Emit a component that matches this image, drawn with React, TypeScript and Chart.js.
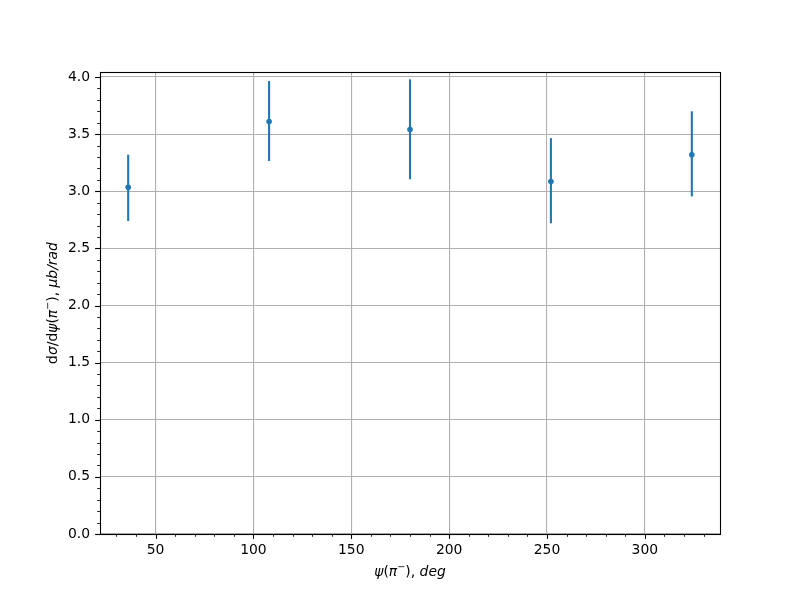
import React, { useEffect, useRef } from "react";
import { Chart, registerables } from "chart.js";

Chart.register(...registerables);

// Data
const psiDeg = [36, 108, 180, 252, 324];
const dSigma = [3.035, 3.61, 3.54, 3.085, 3.32];
const errLow = [2.74, 3.265, 3.105, 2.72, 2.955];
const errHigh = [3.32, 3.965, 3.98, 3.465, 3.7];

// Ticks
const xMajorTicks = [50, 100, 150, 200, 250, 300];
const xMinorTicks = [30, 40, 60, 70, 80, 90, 110, 120, 130, 140, 160, 170, 180, 190, 210, 220, 230, 240, 260, 270, 280, 290, 310, 320, 330];
const yMajorTicks = [0, 0.5, 1.0, 1.5, 2.0, 2.5, 3.0, 3.5, 4.0];
const yMinorTicks = [0.1, 0.2, 0.3, 0.4, 0.6, 0.7, 0.8, 0.9, 1.1, 1.2, 1.3, 1.4, 1.6, 1.7, 1.8, 1.9, 2.1, 2.2, 2.3, 2.4, 2.6, 2.7, 2.8, 2.9, 3.1, 3.2, 3.3, 3.4, 3.6, 3.7, 3.8, 3.9, 4.0];

const xLimits = [21.6, 338.4];
const yLimits = [0, 4.044];

const BLUE = "#1f77b4";
const FONT = "'DejaVu Sans', sans-serif";

type Piece = { t: string; it?: boolean; sup?: boolean };

const xLabelPieces: Piece[] = [
  { t: "ψ", it: true },
  { t: "(" },
  { t: "π", it: true },
  { t: "−", sup: true },
  { t: ")" },
  { t: ", " },
  { t: "deg", it: true },
];
const yLabelPieces: Piece[] = [
  { t: "d" },
  { t: "σ", it: true },
  { t: "/d" },
  { t: "ψ", it: true },
  { t: "(" },
  { t: "π", it: true },
  { t: "−", sup: true },
  { t: ")" },
  { t: ", " },
  { t: "μb/rad", it: true },
];

function pieceFont(p: Piece) {
  const size = p.sup ? 9.7 : 13.9;
  return `${p.it ? "italic " : ""}${size}px ${FONT}`;
}

function drawPieces(ctx: CanvasRenderingContext2D, pieces: Piece[], cx: number, cy: number) {
  let total = 0;
  const widths = pieces.map((p) => {
    ctx.font = pieceFont(p);
    const w = ctx.measureText(p.t).width;
    total += w;
    return w;
  });
  let x = cx - total / 2;
  ctx.textBaseline = "middle";
  ctx.textAlign = "left";
  pieces.forEach((p, i) => {
    ctx.font = pieceFont(p);
    ctx.fillText(p.t, x, p.sup ? cy - 5 : cy);
    x += widths[i];
  });
}

const customPlugin = {
  id: "mplStyle",
  beforeDatasetsDraw(chart: any) {
    const ctx = chart.ctx as CanvasRenderingContext2D;
    const xs = chart.scales.x;
    const ys = chart.scales.y;
    ctx.save();
    ctx.strokeStyle = BLUE;
    ctx.lineWidth = 2.1;
    psiDeg.forEach((x, i) => {
      const px = xs.getPixelForValue(x);
      ctx.beginPath();
      ctx.moveTo(px, ys.getPixelForValue(errLow[i]));
      ctx.lineTo(px, ys.getPixelForValue(errHigh[i]));
      ctx.stroke();
    });
    ctx.restore();
  },
  afterDraw(chart: any) {
    const ctx = chart.ctx as CanvasRenderingContext2D;
    const a = chart.chartArea;
    const xs = chart.scales.x;
    const ys = chart.scales.y;
    ctx.save();
    ctx.strokeStyle = "#000";
    // ticks
    const drawX = (vals: number[], len: number, lw: number) => {
      ctx.lineWidth = lw;
      vals.forEach((v) => {
        const px = Math.round(xs.getPixelForValue(v)) + 0.5;
        ctx.beginPath();
        ctx.moveTo(px, a.bottom);
        ctx.lineTo(px, a.bottom + len);
        ctx.stroke();
      });
    };
    const drawY = (vals: number[], len: number, lw: number) => {
      ctx.lineWidth = lw;
      vals.forEach((v) => {
        const py = Math.round(ys.getPixelForValue(v)) + 0.5;
        ctx.beginPath();
        ctx.moveTo(a.left, py);
        ctx.lineTo(a.left - len, py);
        ctx.stroke();
      });
    };
    drawX(xMajorTicks, 4.9, 1.1);
    drawX(xMinorTicks, 2.8, 0.85);
    drawY(yMajorTicks, 4.9, 1.1);
    drawY(yMinorTicks, 2.8, 0.85);
    // frame
    ctx.lineWidth = 1.1;
    ctx.strokeRect(Math.round(a.left) + 0.5, Math.round(a.top) + 0.5, Math.round(a.right - a.left), Math.round(a.bottom - a.top));
    // axis labels
    ctx.fillStyle = "#000";
    drawPieces(ctx, xLabelPieces, (a.left + a.right) / 2, 572);
    ctx.save();
    ctx.translate(53, (a.top + a.bottom) / 2);
    ctx.rotate(-Math.PI / 2);
    drawPieces(ctx, yLabelPieces, 0, 0);
    ctx.restore();
    ctx.restore();
  },
};

export default function App() {
  const ref = useRef<HTMLCanvasElement | null>(null);
  useEffect(() => {
    if (!ref.current) return;
    const chart = new Chart(ref.current, {
      type: "scatter",
      data: {
        datasets: [
          {
            data: psiDeg.map((x, i) => ({ x, y: dSigma[i] })),
            backgroundColor: BLUE,
            borderColor: BLUE,
            pointRadius: 2.8,
            pointBorderWidth: 0,
            showLine: false,
          },
        ],
      },
      options: {
        animation: false,
        responsive: false,
        layout: { padding: { top: 72, right: 80, left: 0, bottom: 0 } },
        plugins: { legend: { display: false }, tooltip: { enabled: false } },
        scales: {
          x: {
            type: "linear",
            min: xLimits[0],
            max: xLimits[1],
            afterBuildTicks: (s: any) => {
              s.ticks = xMajorTicks.map((v) => ({ value: v }));
            },
            afterFit: (s: any) => {
              s.height = 66;
            },
            grid: { color: "#b0b0b0", lineWidth: 1.1, drawTicks: false },
            border: { display: false },
            ticks: {
              color: "#000",
              font: { family: FONT, size: 13.9 },
              padding: 8,
              maxRotation: 0,
              callback: (v: any) => String(v),
            },
          },
          y: {
            type: "linear",
            min: yLimits[0],
            max: yLimits[1],
            afterBuildTicks: (s: any) => {
              s.ticks = yMajorTicks.map((v) => ({ value: v }));
            },
            afterFit: (s: any) => {
              s.width = 100;
            },
            grid: { color: "#b0b0b0", lineWidth: 1.1, drawTicks: false },
            border: { display: false },
            ticks: {
              color: "#000",
              font: { family: FONT, size: 13.9 },
              padding: 10,
              callback: (v: any) => Number(v).toFixed(1),
            },
          },
        },
      },
      plugins: [customPlugin],
    });
    return () => chart.destroy();
  }, []);
  return (
    <div style={{ position: "fixed", left: 0, top: 0, width: 800, height: 600, background: "#fff" }}>
      <canvas ref={ref} width={800} height={600} style={{ display: "block" }} />
    </div>
  );
}
